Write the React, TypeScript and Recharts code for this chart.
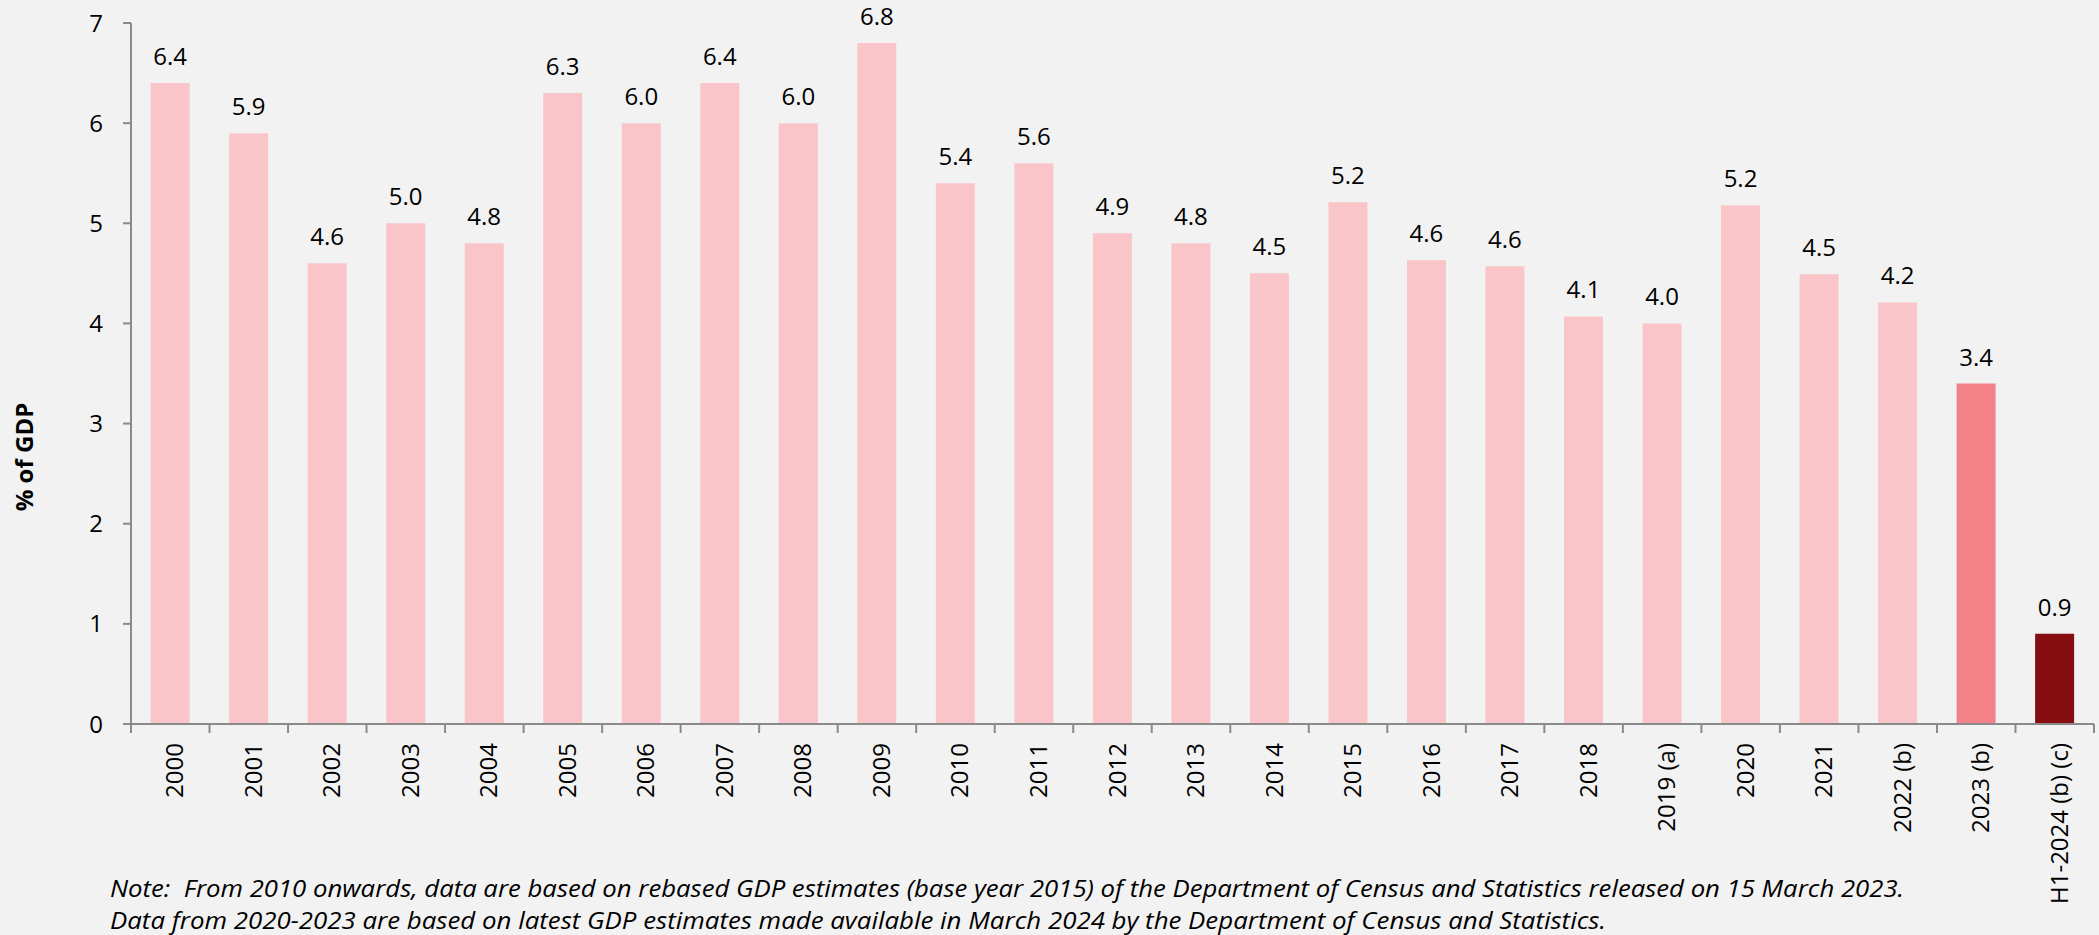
import React from 'react';
import { BarChart, Bar, XAxis, YAxis, LabelList, Cell } from 'recharts';

const categories = [
  '2000', '2001', '2002', '2003', '2004', '2005', '2006', '2007', '2008', '2009',
  '2010', '2011', '2012', '2013', '2014', '2015', '2016', '2017', '2018', '2019 (a)',
  '2020', '2021', '2022 (b)', '2023 (b)', 'H1-2024 (b) (c)',
];
const values = [
  6.4, 5.9, 4.6, 5.0, 4.8, 6.3, 6.0, 6.4, 6.0, 6.8,
  5.4, 5.6, 4.9, 4.8, 4.5, 5.21, 4.63, 4.57, 4.07, 4.0,
  5.18, 4.49, 4.21, 3.4, 0.9,
];
const yTicks = [0, 1, 2, 3, 4, 5, 6, 7];
const defaultColor = '#f9c5c8';
const highlightColors: Record<string, string> = {
  '2023 (b)': '#f38188',
  'H1-2024 (b) (c)': '#870e10',
};
const yAxisTitle = '% of GDP';
const noteLines = [
  'Note:  From 2010 onwards, data are based on rebased GDP estimates (base year 2015) of the Department of Census and Statistics released on 15 March 2023.',
  'Data from 2020-2023 are based on latest GDP estimates made available in March 2024 by the Department of Census and Statistics.',
];

const data = categories.map((cat, i) => ({ cat, value: values[i] }));

const FONT = '"Open Sans", "Noto Sans", sans-serif';
const AXIS = '#8a8a8a';

const XTick = (props: any) => {
  const { x, y, payload, index } = props;
  const half = payload && payload.offset ? payload.offset : 39.26;
  const last = index === categories.length - 1;
  return (
    <g>
      <line x1={x - half} x2={x - half} y1={y} y2={y + 9} stroke={AXIS} strokeWidth={2} />
      {last && <line x1={x + half} x2={x + half} y1={y} y2={y + 9} stroke={AXIS} strokeWidth={2} />}
      <text
        x={x}
        y={y + 19}
        dy={13}
        transform={`rotate(-90, ${x}, ${y + 19})`}
        textAnchor="end"
        fontSize={24}
        fontFamily={FONT}
        fill="#000"
      >
        {payload.value}
      </text>
    </g>
  );
};

export default function App() {
  return (
    <div style={{ position: 'relative', width: 2099, height: 935, background: '#f2f2f2', overflow: 'hidden' }}>
      <style>{'body{margin:0}'}</style>
      <BarChart
        width={2099}
        height={935}
        data={data}
        margin={{ top: 23, right: 5, bottom: 181, left: 71 }}
        barCategoryGap="25%"
      >
        <XAxis
          dataKey="cat"
          interval={0}
          height={30}
          tickLine={false}
          tickSize={0}
          tickMargin={0}
          axisLine={{ stroke: AXIS, strokeWidth: 2 }}
          tick={<XTick />}
        />
        <YAxis
          width={60}
          domain={[0, 7]}
          ticks={yTicks}
          interval={0}
          tickSize={8}
          tickMargin={20}
          axisLine={{ stroke: AXIS, strokeWidth: 2 }}
          tickLine={{ stroke: AXIS, strokeWidth: 2 }}
          tick={{ fontSize: 24, fontFamily: FONT, fill: '#000' }}
        />
        <Bar dataKey="value" isAnimationActive={false}>
          {data.map((d) => (
            <Cell key={d.cat} fill={highlightColors[d.cat] || defaultColor} />
          ))}
          <LabelList
            dataKey="value"
            position="top"
            offset={18}
            formatter={(v: any) => Number(v).toFixed(1)}
            style={{ fontSize: 24, fontFamily: FONT, fill: '#000' }}
          />
        </Bar>
      </BarChart>
      <svg
        width={2099}
        height={935}
        style={{ position: 'absolute', left: 0, top: 0, pointerEvents: 'none' }}
      >
        <text
          x={33}
          y={457}
          transform="rotate(-90, 33, 457)"
          textAnchor="middle"
          fontSize={24}
          fontWeight="bold"
          fontFamily={FONT}
          fill="#000"
        >
          {yAxisTitle}
        </text>
        <text x={110} y={897} fontSize={24} fontStyle="italic" fontFamily={FONT} fill="#000" textLength={1794} lengthAdjust="spacingAndGlyphs" style={{ whiteSpace: 'pre' }}>
          {noteLines[0]}
        </text>
        <text x={110} y={929} fontSize={24} fontStyle="italic" fontFamily={FONT} fill="#000" textLength={1496} lengthAdjust="spacingAndGlyphs" style={{ whiteSpace: 'pre' }}>
          {noteLines[1]}
        </text>
      </svg>
    </div>
  );
}
